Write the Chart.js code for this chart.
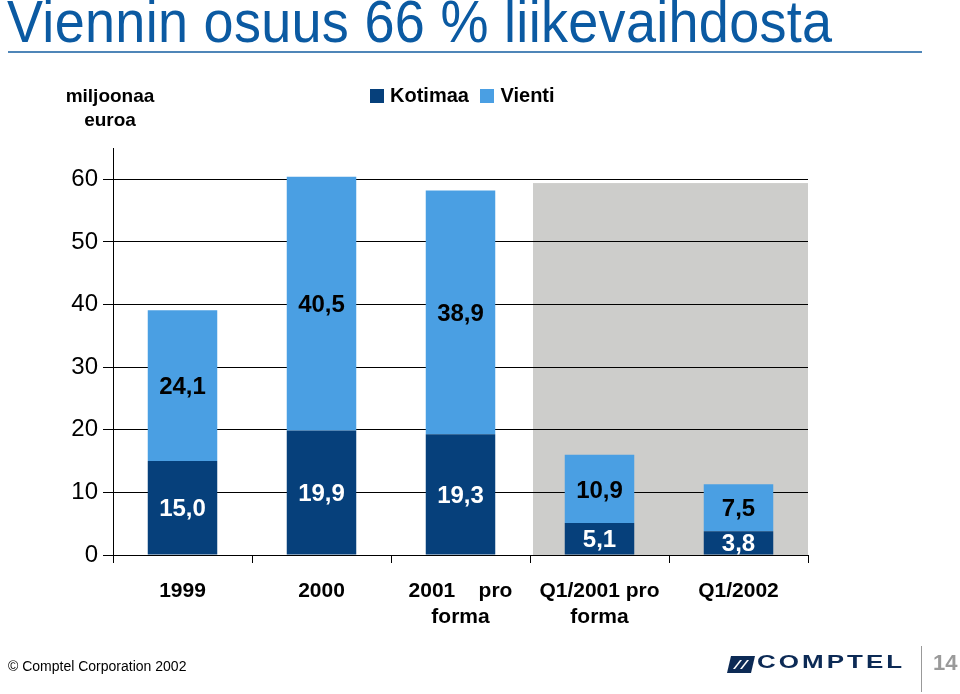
<!DOCTYPE html>
<html>
<head>
<meta charset="utf-8">
<script src="https://cdn.jsdelivr.net/npm/chart.js@4.4.1/dist/chart.umd.min.js"></script>
<style>
  html, body { margin: 0; padding: 0; background: #fff; }
  #wrap { position: relative; width: 960px; height: 694px; overflow: hidden; font-family: "Liberation Sans", Arial, sans-serif; }
  #c { position: absolute; left: 0; top: 0; }
  .abs { position: absolute; white-space: nowrap; }
  #title { left: 7px; top: -12px; font-size: 54px; color: #0b5aa2; transform: scaleY(1.08); transform-origin: left top; letter-spacing: 0.3px; }
  #rule { left: 8px; top: 51px; width: 914px; height: 2px; background: #4f86b8; }
  #unit { left: 50px; top: 84px; width: 120px; text-align: center; font-size: 19px; font-weight: bold; line-height: 24px; }
  #legend { left: 370px; top: 84px; font-size: 20px; font-weight: bold; line-height: 22px; }
  #legend span.sw { display: inline-block; width: 14px; height: 14px; margin-right: 6px; vertical-align: -1px; }
  #copy { left: 8px; top: 658px; font-size: 14px; }
  #logo { left: 727px; top: 656px; }
  #logotxt { left: 757px; top: 651px; font-size: 26px; font-weight: bold; color: #0c2a55; letter-spacing: 3px; transform: scaleY(0.72); transform-origin: left top; }
  #vline { left: 921px; top: 646px; width: 1px; height: 46px; background: #999; }
  #page { left: 933px; top: 650px; font-size: 22px; font-weight: bold; color: #9a9a9a; }
</style>
</head>
<body>
<div id="wrap">
  <canvas id="c" width="960" height="694"></canvas>
  <div class="abs" id="title">Viennin osuus 66 % liikevaihdosta</div>
  <div class="abs" id="rule"></div>
  <div class="abs" id="unit">miljoonaa<br>euroa</div>
  <div class="abs" id="legend"><span class="sw" style="background:#06407b"></span>Kotimaa <span class="sw" style="background:#4a9fe3;margin-left:6px"></span>Vienti</div>
  <div class="abs" id="copy">© Comptel Corporation 2002</div>
  <svg class="abs" id="logo" width="28" height="17" viewBox="0 0 28 17">
    <polygon points="4,0 28,0 24,17 0,17" fill="#0c2a55"/>
    <polygon points="6,13 13,4 15,4 8,13" fill="#fff"/>
    <polygon points="13,13 20,4 22,4 15,13" fill="#fff"/>
  </svg>
  <div class="abs" id="logotxt">COMPTEL</div>
  <div class="abs" id="vline"></div>
  <div class="abs" id="page">14</div>
</div>
<script>
const categories = [['1999'], ['2000'], ['2001    pro', 'forma'], ['Q1/2001 pro', 'forma'], ['Q1/2002']];
const kotimaa = [15.0, 19.9, 19.3, 5.1, 3.8];
const vienti = [24.1, 40.5, 38.9, 10.9, 7.5];
const yTicks = [0, 10, 20, 30, 40, 50, 60];
const shadedFromIndex = 3;
const shadedTop = 59.4;

const shadePlugin = {
  id: 'shade',
  beforeDraw(chart) {
    const x = chart.scales.x, y = chart.scales.y, ctx = chart.ctx;
    const left = x.getPixelForValue(shadedFromIndex - 0.5) + 3;
    const right = chart.chartArea.right;
    const top = y.getPixelForValue(shadedTop);
    const bottom = y.getPixelForValue(0);
    ctx.save();
    ctx.fillStyle = '#cdcdcb';
    ctx.fillRect(left, top, right - left, bottom - top);
    ctx.restore();
  }
};

const labelPlugin = {
  id: 'vals',
  afterDatasetsDraw(chart) {
    const ctx = chart.ctx;
    chart.data.datasets.forEach((ds, di) => {
      const meta = chart.getDatasetMeta(di);
      meta.data.forEach((el, i) => {
        const v = ds.data[i];
        const cy = (el.y + el.base) / 2 + 2;
        ctx.save();
        ctx.font = 'bold 24px "Liberation Sans", Arial, sans-serif';
        ctx.textAlign = 'center';
        ctx.textBaseline = 'middle';
        ctx.fillStyle = di === 0 ? '#ffffff' : '#000000';
        ctx.fillText(v.toFixed(1).replace('.', ','), el.x, cy);
        ctx.restore();
      });
    });
  }
};

new Chart(document.getElementById('c'), {
  type: 'bar',
  data: {
    labels: categories,
    datasets: [
      { label: 'Kotimaa', data: kotimaa, backgroundColor: '#06407b', categoryPercentage: 1, barPercentage: 0.5 },
      { label: 'Vienti', data: vienti, backgroundColor: '#4a9fe3', categoryPercentage: 1, barPercentage: 0.5 }
    ]
  },
  options: {
    responsive: false,
    animation: false,
    devicePixelRatio: 1,
    layout: { padding: { left: 0, right: 152, top: 148, bottom: 0 } },
    plugins: { legend: { display: false }, tooltip: { enabled: false } },
    scales: {
      x: {
        stacked: true,
        offset: true,
        grid: { display: true, drawOnChartArea: false, offset: true, color: '#000', tickLength: 8, lineWidth: 1 },
        border: { display: true, color: '#000', width: 1 },
        ticks: { color: '#000', font: { family: '"Liberation Sans", Arial, sans-serif', size: 21, weight: 'bold' }, padding: 16, maxRotation: 0, autoSkip: false },
        afterFit(s) { s.height = 139; }
      },
      y: {
        stacked: true,
        min: 0,
        max: 65,
        afterBuildTicks(s) { s.ticks = yTicks.map(v => ({ value: v })); },
        grid: { color: '#000', tickLength: 10, lineWidth: 1 },
        border: { display: true, color: '#000', width: 1 },
        ticks: { color: '#000', font: { family: '"Liberation Sans", Arial, sans-serif', size: 24 }, padding: 5 },
        afterFit(s) { s.width = 113; }
      }
    }
  },
  plugins: [shadePlugin, labelPlugin]
});
</script>
</body>
</html>
